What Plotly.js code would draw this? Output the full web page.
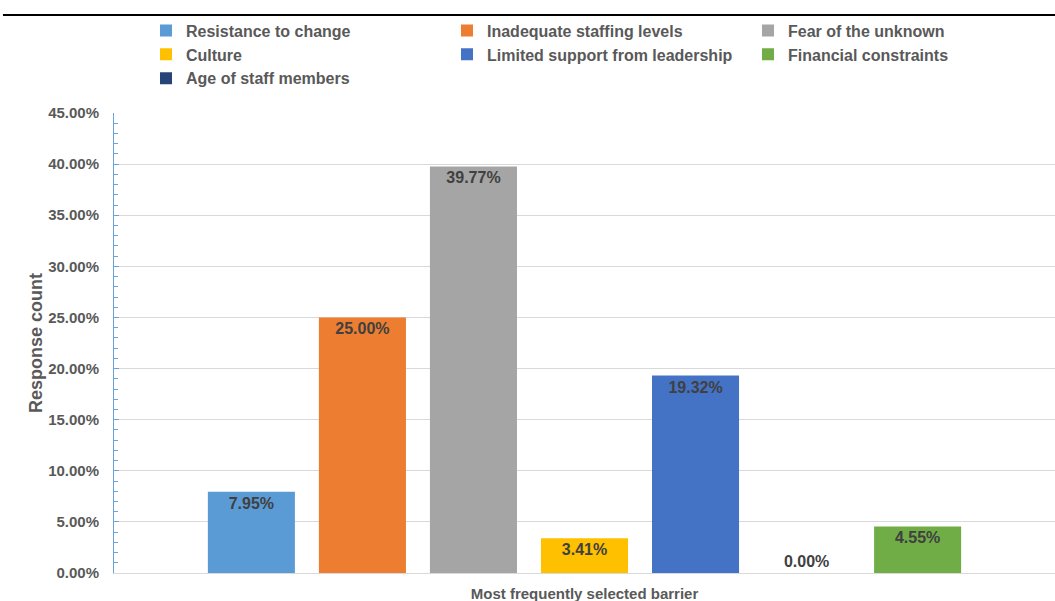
<!DOCTYPE html>
<html>
<head>
<meta charset="utf-8">
<script src="https://cdn.plot.ly/plotly-3.0.1.min.js"></script>
<style>
  html, body { margin: 0; padding: 0; background: #ffffff; }
  #chart { width: 1055px; height: 601px; }
</style>
</head>
<body>
<div id="chart"></div>
<script>
// Survey question: the single category on the x axis
const category = 'Most frequently selected barrier';

// Barriers in bar order, with their share of responses
const barriers = [
  'Resistance to change',
  'Inadequate staffing levels',
  'Fear of the unknown',
  'Culture',
  'Limited support from leadership',
  'Age of staff members',
  'Financial constraints'
];
const shares = [0.0795, 0.25, 0.3977, 0.0341, 0.1932, 0.0, 0.0455];
const colors = ['#5B9BD5', '#ED7D31', '#A5A5A5', '#FFC000', '#4472C4', '#264478', '#70AD47'];
// Order in which the barriers are listed in the legend
const legendOrder = [1, 2, 3, 4, 5, 7, 6];

const yTicks = [0, 0.05, 0.10, 0.15, 0.20, 0.25, 0.30, 0.35, 0.40, 0.45];

const font = 'Liberation Sans, Arial, Helvetica, sans-serif';

const traces = barriers.map((name, i) => ({
  type: 'bar',
  name: name,
  x: [category],
  y: [shares[i]],
  marker: { color: colors[i], line: { width: 0 } },
  text: [(shares[i] * 100).toFixed(2) + '%'],
  textposition: shares[i] > 0 ? 'inside' : 'outside',
  insidetextanchor: 'end',
  textfont: { family: font, size: 16, color: '#404040', weight: 'bold' },
  cliponaxis: false,
  legendrank: legendOrder[i],
  hoverinfo: 'skip'
}));

const layout = {
  width: 1055,
  height: 601,
  margin: { l: 114, r: 0, t: 113, b: 28 },
  paper_bgcolor: '#ffffff',
  plot_bgcolor: '#ffffff',
  font: { family: font, color: '#595959' },
  barmode: 'group',
  bargap: 0.174,
  bargroupgap: 0.216,
  showlegend: true,
  legend: {
    orientation: 'h',
    x: 0.034,
    xanchor: 'left',
    y: 1.216,
    yanchor: 'top',
    entrywidth: 256,
    entrywidthmode: 'pixels',
    font: { family: font, size: 16, color: '#595959', weight: 'bold' },
    bgcolor: 'rgba(0,0,0,0)'
  },
  xaxis: {
    type: 'category',
    showgrid: false,
    showline: true,
    linecolor: '#d9d9d9',
    linewidth: 1,
    ticks: '',
    ticklabelstandoff: 7,
    tickfont: { family: font, size: 15, color: '#595959', weight: 'bold' },
    zeroline: false
  },
  yaxis: {
    range: [0, 0.45],
    tickvals: yTicks,
    tickformat: '.2%',
    showgrid: true,
    gridcolor: '#d9d9d9',
    gridwidth: 1,
    zeroline: false,
    showline: true,
    linecolor: '#6aa3dc',
    linewidth: 1,
    ticks: 'inside',
    ticklen: 5,
    tickcolor: '#6aa3dc',
    minor: { dtick: 0.01, ticks: 'inside', ticklen: 4, tickcolor: '#6aa3dc' },
    tickfont: { family: font, size: 15, color: '#595959', weight: 'bold' },
    ticklabelstandoff: 11,
    title: {
      text: 'Response count',
      font: { family: font, size: 18, color: '#595959', weight: 'bold' },
      standoff: 0
    }
  },
  shapes: [{
    type: 'line',
    xref: 'paper', yref: 'paper',
    x0: -0.118, x1: 1.0,
    y0: 1.213, y1: 1.213,
    line: { color: '#000000', width: 2 }
  }]
};

Plotly.newPlot('chart', traces, layout, { staticPlot: true, displayModeBar: false });
</script>
</body>
</html>
